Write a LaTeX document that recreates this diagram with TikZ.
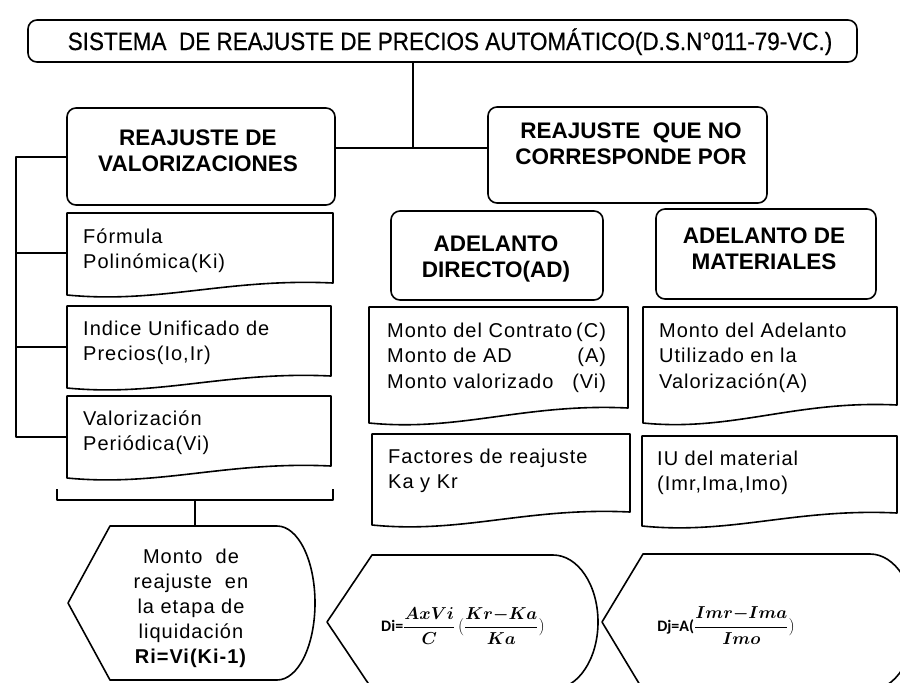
\documentclass[tikz,border=0pt]{standalone}
\usepackage{fontspec}
\setmainfont{Liberation Sans}
\newfontfamily\bodyf[LetterSpace=5]{Liberation Sans}
\newfontfamily\titlef[FakeStretch=0.9,FakeBold=0.6]{Liberation Sans}
\newfontfamily\formf{Carlito}
\usepackage{amsmath}
\newcommand\tlines[1]{\begin{tabular}[t]{@{}l@{}}#1\end{tabular}}
\newcommand\tcent[1]{\begin{tabular}[t]{@{}c@{}}#1\end{tabular}}
% document shape: xl, top, xr, yr (right bottom), yl (left bottom)
\newcommand\docpath[5]{%
  \draw[shp] (#1,#2) -- (#3,#2) -- (#3,#4)
    .. controls ({#1+0.6*(#3-#1)},{#4-5}) and ({#1+0.35*(#3-#1)},{#5+9}) .. (#1,#5) -- cycle;}
\begin{document}
\begin{tikzpicture}[x=1pt,y=-1pt,line join=round,
  box/.style={draw,line width=1.6pt,rounded corners=9pt,inner sep=0pt},
  shp/.style={draw,line width=1.6pt},
  conn/.style={line width=1.8pt},
  hdr/.style={anchor=base,inner sep=0pt,font=\bfseries\fontsize{22.5}{26.5}\selectfont},
  doctext/.style={anchor=base west,inner sep=0pt,font=\bodyf\fontsize{20}{25.5}\selectfont},
  ctext/.style={anchor=base,inner sep=0pt,font=\bodyf\fontsize{20}{25}\selectfont},
  formula/.style={inner sep=0pt,font=\formf\bfseries\fontsize{16}{19}\selectfont}]
\useasboundingbox (0,0) rectangle (900,683);
\clip (0,0) rectangle (900,683);
\fill[white] (0,0) rectangle (900,683);

% title
\node[box,minimum width=829pt,minimum height=42pt] (title) at (442.5,41) {};
\node[anchor=base,inner sep=0pt,font=\titlef\fontsize{25}{28}\selectfont] (titletext) at (450,50)
  {SISTEMA\ \ DE REAJUSTE DE PRECIOS AUTOMÁTICO(D.S.N°011-79-VC.)};

% main boxes
\node[box,minimum width=268pt,minimum height=97pt] (rv) at (201,156.5) {};
\node[hdr] (rvt) at (198,145) {\tcent{REAJUSTE DE\\VALORIZACIONES}};
\node[box,minimum width=279pt,minimum height=96pt] (rq) at (627.5,155) {};
\node[hdr] (rqt) at (631,138) {\tcent{REAJUSTE\ \ QUE NO\\CORRESPONDE POR}};
\node[box,minimum width=212pt,minimum height=89pt] (ad) at (497,255.5) {};
\node[hdr] (adt) at (496,251) {\tcent{ADELANTO\\DIRECTO(AD)}};
\node[box,minimum width=220pt,minimum height=90pt] (am) at (766,254) {};
\node[hdr] (amt) at (764,243) {\tcent{ADELANTO DE\\MATERIALES}};

% connectors top
\coordinate (j) at (413,148);
\draw[conn] (title.south -| j) -- (j);
\draw[conn] (rv.east |- j) -- (rq.west |- j);

% document shapes (left column)
\docpath{67}{213}{333}{283}{295}
\docpath{67}{306}{331}{376}{388}
\docpath{67}{396}{331}{466}{478}
\node[doctext] (ft) at (83,243) {\tlines{Fórmula\\Polinómica(Ki)}};
\node[doctext] (it) at (83,335) {\tlines{Indice Unificado de\\Precios(Io,Ir)}};
\node[doctext] (vt) at (83,425) {\tlines{Valorización\\Periódica(Vi)}};

% left bracket
\coordinate (lb) at (16,157);
\coordinate (fL) at (67,253);
\coordinate (iL) at (67,347);
\coordinate (vL) at (67,437);
\draw[conn] (rv.west |- lb) -- (lb) -- (lb |- vL) -- (vL);
\draw[conn] (lb |- fL) -- (fL);
\draw[conn] (lb |- iL) -- (iL);

% document shapes (right columns)
\docpath{369}{307}{628}{408}{423}
\docpath{643}{307}{897}{405}{423}
\docpath{372}{434}{630}{512}{525}
\docpath{642}{436}{897}{513}{526}
\node[doctext] (mct) at (387,337) {\begin{tabular}[t]{@{}l@{}r@{}}Monto del Contrato&(C)\\Monto de AD&(A)\\Monto valorizado\ \ &(Vi)\end{tabular}};
\node[doctext] (mat) at (659,337) {\tlines{Monto del Adelanto\\Utilizado en la\\Valorización(A)}};
\node[doctext] (fat) at (388,463) {\tlines{Factores de reajuste\\Ka y Kr}};
\node[doctext] (iut) at (657,465) {\tlines{IU del material\\(Imr,Ima,Imo)}};

% brace
\coordinate (br) at (195,500);
\coordinate (dl) at (195,526);
\draw[conn] (57,489) -- (57,500) -- (333,500) -- (333,489);
\draw[conn] (br) -- (dl);

% display shapes
\draw[shp] (110,526) -- (277,526) .. controls (298,526) and (315,560) .. (315,603)
  .. controls (315,646) and (298,680) .. (277,680) -- (110,680) -- (68,603) -- cycle;
\draw[shp] (372,555) -- (553,555) .. controls (578,555) and (598,585) .. (598,622)
  .. controls (598,659) and (578,689) .. (553,689) -- (372,689) -- (327,622) -- cycle;
\draw[shp] (643,554) -- (870,554) .. controls (895,554) and (915,585) .. (915,622)
  .. controls (915,659) and (895,690) .. (870,690) -- (643,690) -- (602,622) -- cycle;

\node[ctext] (dlt) at (191,563) {\tcent{Monto\ \ de\\reajuste\ \ en\\la etapa de\\liquidación\\\textbf{Ri=Vi(Ki-1)}}};

\node[formula] (di) at (463,626) {Di=\fontsize{17.5}{20}\selectfont{\boldmath$\displaystyle\frac{AxVi}{C}$}\,$\displaystyle($%
  {\boldmath$\displaystyle\frac{Kr{-}Ka}{Ka}$}$)$};
\node[formula] (dj) at (726,626) {Dj=A(\fontsize{17.5}{20}\selectfont{\boldmath$\displaystyle\frac{Imr{-}Ima}{Imo}$}$)$};
\end{tikzpicture}
\end{document}
